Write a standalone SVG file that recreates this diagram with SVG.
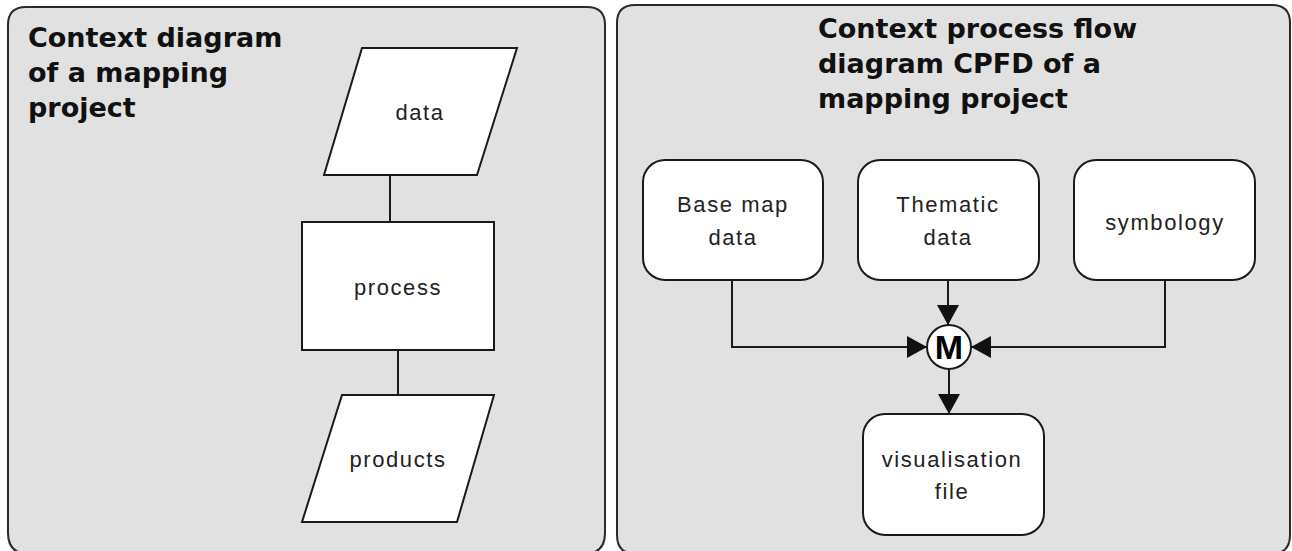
<svg xmlns="http://www.w3.org/2000/svg" width="1292" height="551" viewBox="0 0 1292 551">
<style>
.panel{fill:#e1e1e1;stroke:#2a2a2a;stroke-width:2}
.box{fill:#ffffff;stroke:#1a1a1a;stroke-width:2}
.title{font-family:"DejaVu Sans",sans-serif;font-weight:bold;font-size:27px;fill:#111}
.lbl{font-family:"Liberation Sans",Arial,sans-serif;font-size:22px;letter-spacing:1.6px;fill:#222;text-anchor:middle}
.conn{fill:none;stroke:#1a1a1a;stroke-width:2}
</style>
<defs>
<marker id="arr" markerUnits="userSpaceOnUse" markerWidth="22" markerHeight="22" viewBox="0 0 20 22" refX="20" refY="11" orient="auto">
<path d="M0,0 L20,11 L0,22 Z" fill="#111"/>
</marker>
</defs>
<rect width="1292" height="551" fill="#ffffff"/>
<g id="panel-left">
<path class="panel" d="M26,7 H587 Q605,7 605,25 V533 Q605,554 584,554 H29 Q8,554 8,533 V25 Q8,7 26,7 Z"/>
<text class="title" x="28" y="47">Context diagram</text>
<text class="title" x="28" y="82">of a mapping</text>
<text class="title" x="28" y="117">project</text>
</g>
<g id="panel-right">
<path class="panel" d="M635,5 H1272 Q1290,5 1290,23 V535 Q1290,554 1271,554 H636 Q617,554 617,535 V23 Q617,5 635,5 Z"/>
<text class="title" x="818" y="38">Context process flow</text>
<text class="title" x="818" y="73">diagram CPFD of a</text>
<text class="title" x="818" y="108">mapping project</text>
</g>
<g id="connectors">
<line class="conn" x1="390" y1="175" x2="390" y2="222"/>
<line class="conn" x1="398" y1="350" x2="398" y2="395"/>
<path class="conn" d="M732,280 V347 H927" marker-end="url(#arr)"/>
<path class="conn" d="M948,280 V325" marker-end="url(#arr)"/>
<path class="conn" d="M1165,280 V347 H971" marker-end="url(#arr)"/>
<path class="conn" d="M949,369 V414" marker-end="url(#arr)"/>
</g>
<g id="node-data">
<polygon class="box" points="362,48 517,48 477,175 324,175"/>
<text class="lbl" x="420" y="120">data</text>
</g>
<g id="node-process">
<rect class="box" x="302" y="222" width="192" height="128"/>
<text class="lbl" x="398" y="295">process</text>
</g>
<g id="node-products">
<polygon class="box" points="342,395 494,395 457,522 302,522"/>
<text class="lbl" x="398" y="467">products</text>
</g>
<g id="node-basemap">
<rect class="box" x="643" y="160" width="180" height="120" rx="22" ry="22"/>
<text class="lbl" x="733" y="212">Base map</text>
<text class="lbl" x="733" y="245">data</text>
</g>
<g id="node-thematic">
<rect class="box" x="858" y="160" width="181" height="120" rx="22" ry="22"/>
<text class="lbl" x="948" y="212">Thematic</text>
<text class="lbl" x="948" y="245">data</text>
</g>
<g id="node-symbology">
<rect class="box" x="1074" y="160" width="181" height="120" rx="22" ry="22"/>
<text class="lbl" x="1165" y="230">symbology</text>
</g>
<g id="node-merge">
<circle class="box" cx="949" cy="347" r="22"/>
<text x="949" y="359" font-family="Liberation Sans,Arial,sans-serif" font-weight="bold" font-size="34" text-anchor="middle" fill="#000">M</text>
</g>
<g id="node-visualisation">
<rect class="box" x="863" y="414" width="181" height="121" rx="22" ry="22"/>
<text class="lbl" x="952" y="467">visualisation</text>
<text class="lbl" x="952" y="499">file</text>
</g>
</svg>
